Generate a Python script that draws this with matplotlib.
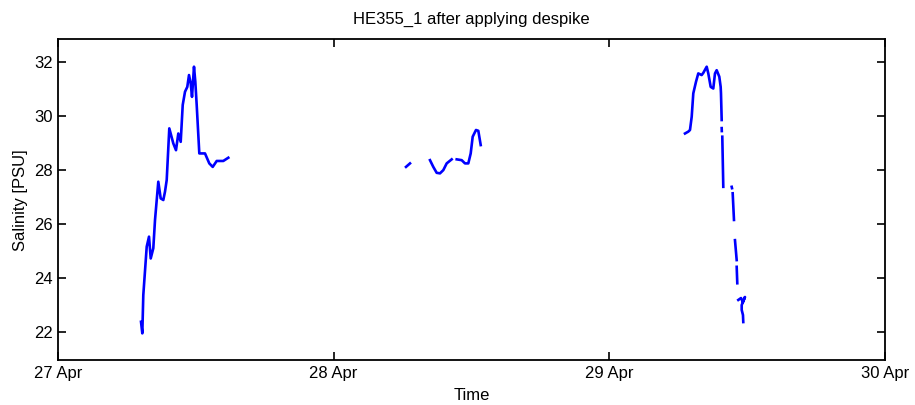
import numpy as np
import matplotlib
matplotlib.use('Agg')
import matplotlib.pyplot as plt
import matplotlib.dates as mdates
import datetime as dt

plt.rcParams['font.family'] = ['Liberation Sans', 'DejaVu Sans']

# time as fraction of a day after 27 Apr, nan = gap in the record
dia0 = dt.datetime(2014, 4, 27)

t1 = [0.3011, 0.3058, 0.3094, 0.3218, 0.3301, 0.3363, 0.3457, 0.3519, 0.3638, 0.3725,
      0.3820, 0.3881, 0.3943, 0.4037, 0.4183, 0.4280, 0.4364, 0.4451, 0.4524, 0.4607,
      0.4690, 0.4752, 0.4814, 0.4861, 0.4933, 0.4981, 0.5031, 0.5126, 0.5332, 0.5488,
      0.5612, 0.5757, 0.5996, 0.6178]
s1 = [22.37, 21.94, 23.36, 25.16, 25.53, 24.72, 25.10, 26.15, 27.57, 26.95,
      26.89, 27.20, 27.63, 29.55, 28.99, 28.74, 29.36, 29.05, 30.42, 30.91,
      31.09, 31.53, 31.22, 30.72, 31.84, 31.28, 30.42, 28.62, 28.62, 28.25,
      28.12, 28.34, 28.34, 28.46]

t2 = [1.2624, 1.2769, np.nan, 1.3494, 1.3614, 1.3737, 1.3857, 1.3977, 1.4100, 1.4281,
      np.nan, 1.4463, 1.4644, 1.4764, 1.4884, 1.4971, 1.5043, 1.5163, 1.5247, 1.5334]
s2 = [28.12, 28.25, np.nan, 28.37, 28.12, 27.90, 27.88, 28.00, 28.25, 28.40,
      np.nan, 28.40, 28.37, 28.25, 28.25, 28.62, 29.24, 29.49, 29.46, 28.93]

t3 = [2.2745, 2.2865, 2.2926, 2.2988, 2.3046, 2.3144, 2.3227, 2.3350, 2.3409, 2.3532,
      2.3590, 2.3677, 2.3771, 2.3833, 2.3894, 2.3989, 2.4039, 2.4050, 2.4076, np.nan,
      2.4076, 2.4080, np.nan, 2.4098, 2.4134, np.nan, 2.4439, 2.4450, np.nan, 2.4475,
      2.4522, np.nan, 2.4558, 2.4620, np.nan, 2.4620, 2.4642, np.nan, 2.4678, 2.4776,
      2.4848, 2.4921, 2.4802, 2.4802, 2.4848, 2.4859]
s3 = [29.36, 29.43, 29.49, 29.98, 30.85, 31.28, 31.59, 31.53, 31.61, 31.84,
      31.59, 31.09, 31.03, 31.59, 31.71, 31.47, 31.09, 30.86, 29.86, np.nan,
      29.56, 29.45, np.nan, 29.24, 27.38, np.nan, 27.38, 27.33, np.nan, 27.14,
      26.15, np.nan, 25.40, 24.66, np.nan, 24.41, 23.80, np.nan, 23.18, 23.25,
      23.10, 23.29, 22.99, 22.81, 22.62, 22.36]

dias = [0, 1, 2, 3]
ticks_y = [22, 24, 26, 28, 30, 32]

t = np.array(t1 + [np.nan] + t2 + [np.nan] + t3)
s = np.array(s1 + [np.nan] + s2 + [np.nan] + s3)
x = mdates.date2num(dia0) + t

fig = plt.figure(figsize=(9.15, 4.05), dpi=100)
ax = fig.add_axes([0.0634, 0.1104, 0.9038, 0.7921])
ax.plot(x, s, color='#0000ff', lw=1.9)

ax.set_xlim(mdates.date2num(dia0), mdates.date2num(dia0) + 3)
ax.set_ylim(20.94, 32.85)
ax.set_xticks([mdates.date2num(dia0) + d for d in dias])
ax.xaxis.set_major_formatter(mdates.DateFormatter('%d %b'))
ax.set_yticks(ticks_y)
ax.tick_params(direction='in', top=True, right=True, length=5.5, width=1.2,
               labelsize=12, pad=4)
for sp in ax.spines.values():
    sp.set_linewidth(1.3)

ax.set_title('HE355_1 after applying despike', fontsize=12, pad=11)
ax.set_xlabel('Time', fontsize=12, labelpad=5)
ax.set_ylabel('Salinity [PSU]', fontsize=12, labelpad=4)

fig.savefig('out.png', dpi=100)
